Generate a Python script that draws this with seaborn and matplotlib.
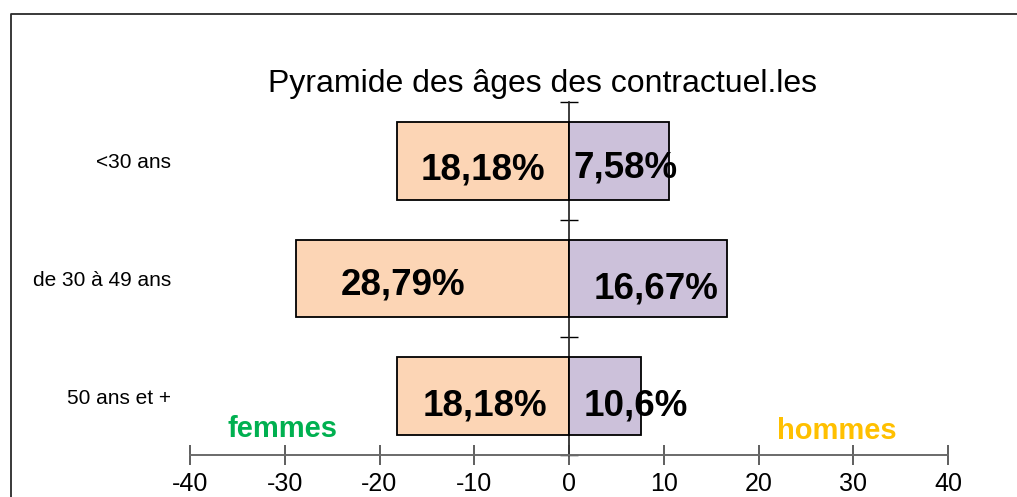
import matplotlib
matplotlib.use("Agg")
import matplotlib.pyplot as plt
import seaborn as sns
import pandas as pd
from matplotlib.lines import Line2D

# ---- data ----
categories = ["<30 ans", "de 30 à 49 ans", "50 ans et +"]
femmes_values = [18.18, 28.79, 18.18]
hommes_values = [10.6, 16.67, 7.58]
femmes_labels = ["18,18%", "28,79%", "18,18%"]
hommes_labels = ["7,58%", "16,67%", "10,6%"]
x_ticks = [-40, -30, -20, -10, 0, 10, 20, 30, 40]
title = "Pyramide des âges des contractuel.les"

# style-only label nudges (pixels)
femmes_label_dx = [0, -30, 2]
femmes_label_dy = [-9, -7, -10]
hommes_label_dx = [6, 8, 31]
hommes_label_dy = [-7, -10, -10]

sns.set_theme(style="white")
plt.rcParams["font.family"] = ["Liberation Sans", "DejaVu Sans"]
plt.rcParams["axes.unicode_minus"] = False

df = pd.DataFrame({
    "cat": categories * 2,
    "val": [-v for v in femmes_values] + hommes_values,
    "sexe": ["femmes"] * 3 + ["hommes"] * 3,
})

fig = plt.figure(figsize=(10.17, 4.97), dpi=100)
ax = fig.add_axes([190 / 1017, 1 - 455 / 497, (948 - 190) / 1017, (455 - 102) / 497])

sns.barplot(data=df, y="cat", x="val", hue="sexe", order=categories,
            hue_order=["femmes", "hommes"], dodge=False, orient="h",
            palette={"femmes": "#FCD5B5", "hommes": "#CCC1DA"}, saturation=1,
            width=0.66, edgecolor="black", linewidth=1.3, legend=False, ax=ax)

ax.set_xlim(-40, 40)
ax.set_ylim(2.5, -0.5)
ax.set_xlabel("")
ax.set_ylabel("")
for s in ["top", "right", "left"]:
    ax.spines[s].set_visible(False)
ax.spines["bottom"].set_color("#6a6a6a")
ax.spines["bottom"].set_linewidth(1.4)
ax.set_xticks(x_ticks)
ax.tick_params(axis="x", direction="inout", length=15, width=1.1, color="#333333",
               labelsize=18, pad=5, labelcolor="black", bottom=True)
ax.tick_params(axis="y", length=0, pad=13.5, labelsize=15, labelcolor="black")

# central vertical axis
sec = ax.secondary_yaxis(0.5)
sec.set_yticks([-0.5, 0.5, 1.5, 2.5], labels=[])
sec.set_yticks([0, 1, 2], minor=True, labels=[])
sec.tick_params(which="major", direction="inout", length=13, width=1.0, color="black")
sec.tick_params(which="minor", direction="in", length=4, width=0.8, color="#444444")
sec.spines["left"].set_color("black")
sec.spines["left"].set_linewidth(1.0)

# bar labels
for i in range(len(categories)):
    ax.annotate(femmes_labels[i], xy=(-femmes_values[i] / 2, i),
                xytext=(femmes_label_dx[i], femmes_label_dy[i]), textcoords="offset pixels",
                ha="center", va="center", fontsize=26.5, fontweight="bold", color="black")
    ax.annotate(hommes_labels[i], xy=(hommes_values[i] / 2, i),
                xytext=(hommes_label_dx[i], hommes_label_dy[i]), textcoords="offset pixels",
                ha="center", va="center", fontsize=26.5, fontweight="bold", color="black")

fig.text(542 / 1017, 1 - 84 / 497, title, ha="center", va="center", fontsize=23, color="black")
fig.text(282 / 1017, 1 - 429 / 497, "femmes", ha="center", va="center",
         fontsize=21, fontweight="bold", color="#00B050")
fig.text(837 / 1017, 1 - 431 / 497, "hommes", ha="center", va="center",
         fontsize=21, fontweight="bold", color="#FFC000")

# outer frame (top and left edges visible)
yb = 1 - 13.5 / 497
xb = 10.5 / 1017
fig.add_artist(Line2D([xb, xb, 1.0], [0.0, yb, yb], transform=fig.transFigure,
                      color="#2a2a2a", linewidth=1.3))

fig.savefig("out.png", dpi=100, facecolor="white")
